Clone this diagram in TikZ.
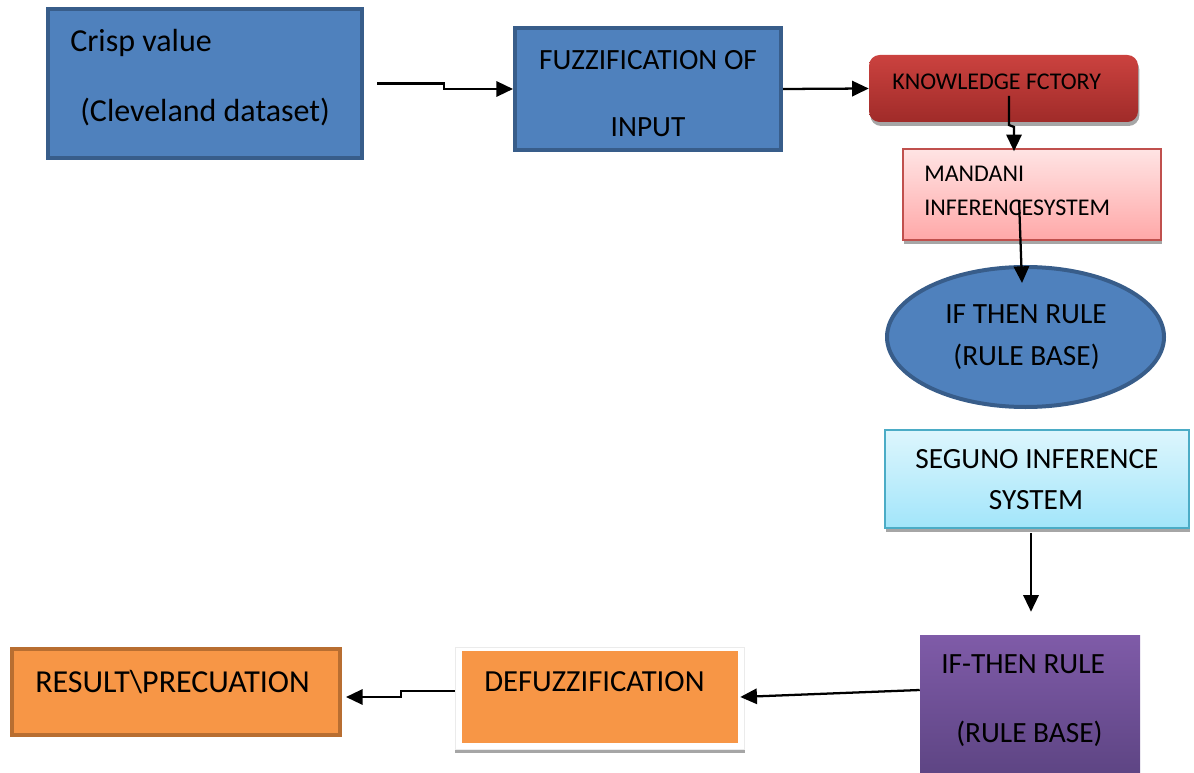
\documentclass[tikz,border=0pt]{standalone}
\usepackage{fontspec}
\setmainfont{Carlito}
\usetikzlibrary{arrows.meta,shapes.geometric,calc,shadows}
\definecolor{blueF}{HTML}{4F81BD}
\definecolor{blueD}{HTML}{385D8A}
\definecolor{redT}{HTML}{CB423F}
\definecolor{redB}{HTML}{A02B29}
\definecolor{pinkT}{HTML}{FFE4E4}
\definecolor{pinkB}{HTML}{FFA8A8}
\definecolor{pinkD}{HTML}{C0504D}
\definecolor{cyanT}{HTML}{DDF6FD}
\definecolor{cyanB}{HTML}{A2E5FA}
\definecolor{cyanD}{HTML}{4BACC6}
\definecolor{purT}{HTML}{7F5BA8}
\definecolor{purB}{HTML}{5E4584}
\definecolor{orF}{HTML}{F79646}
\definecolor{orD}{HTML}{B86E31}
\definecolor{shd}{HTML}{A6A6A6}
\begin{document}
\begin{tikzpicture}[x=0.75pt,y=-0.75pt,
  bluebox/.style={draw=blueD, line width=3pt, fill=blueF, inner sep=0pt},
  arr/.style={-{Triangle[length=12.5pt,width=11.5pt]}, line width=1.7pt},
  shad/.style={drop shadow={shadow xshift=1pt, shadow yshift=-3pt, fill=shd, opacity=1}},
  tl/.style={font=\fontsize{24}{28}\selectfont, inner sep=0pt},
  tm/.style={font=\fontsize{22}{26}\selectfont, inner sep=0pt},
  ts/.style={font=\fontsize{18}{22}\selectfont, inner sep=0pt}]
\useasboundingbox (0,0) rectangle (1194,773);

% boxes
\node[bluebox, minimum width=235.5pt, minimum height=111.75pt] (crisp) at (205,83.5) {};
\node[bluebox, minimum width=199.5pt, minimum height=91.5pt] (fuzz) at (648,89) {};
\node[shad, rounded corners=8pt, top color=redT, bottom color=redB, inner sep=0pt,
      minimum width=201.75pt, minimum height=50.25pt] (know) at (1003.5,88.5) {};
\node[shad, draw=pinkD, line width=1.2pt, top color=pinkT, bottom color=pinkB, inner sep=0pt,
      minimum width=193.5pt, minimum height=68.25pt] (mandani) at (1032,194.5) {};
\node[ellipse, draw=blueD, line width=3pt, fill=blueF, inner sep=0pt,
      minimum width=207.75pt, minimum height=105pt] (rule1) at (1025.5,337) {};
\node[shad, draw=cyanD, line width=1.2pt, top color=cyanT, bottom color=cyanB, inner sep=0pt,
      minimum width=228pt, minimum height=73.5pt] (seguno) at (1037,479) {};
\node[top color=purT, bottom color=purB, inner sep=0pt,
      minimum width=165pt, minimum height=103.5pt] (purple) at (1030,704) {};
\fill[shd] (455,747) rectangle (745,753);
\draw[white!92!black, line width=0.6pt, fill=white] (455,647) rectangle (744,749);
\node[fill=orF, inner sep=0pt, minimum width=207pt, minimum height=69pt] (defuzz) at (600,697) {};
\node[draw=orD, line width=3pt, fill=orF, inner sep=0pt,
      minimum width=246pt, minimum height=64.5pt] (result) at (176,692) {};

% texts
\node[tl, anchor=base west] (t1a) at (70,52) {Crisp value};
\node[tl, anchor=base west] (t1b) at (80,122) {(Cleveland dataset)};
\node[tm, anchor=base] (t2a) at (648,70) {FUZZIFICATION OF};
\node[tm, anchor=base] (t2b) at (648,137) {INPUT};
\node[ts, anchor=base west] (t3) at (892,90) {KNOWLEDGE FCTORY};
\node[ts, anchor=base west] (t4a) at (924,182) {MANDANI};
\node[ts, anchor=base west] (t4b) at (924,216) {INFERENCESYSTEM};
\node[tm, anchor=base] (t5a) at (1026,323) {IF THEN RULE};
\node[tm, anchor=base] (t5b) at (1026.5,365) {(RULE BASE)};
\node[tm, anchor=base] (t6a) at (1037,468) {SEGUNO INFERENCE};
\node[tm, anchor=base] (t6b) at (1036,509) {SYSTEM};
\node[tm, anchor=base west] (t7a) at (941,673) {IF-THEN RULE};
\node[tm, anchor=base west] (t7b) at (956,742) {(RULE BASE)};
\node[tl, anchor=base west, font=\fontsize{23}{27}\selectfont] (t8) at (484,691) {DEFUZZIFICATION};
\node[tl, anchor=base west] (t9) at (35,692) {RESULT\textbackslash PRECUATION};

% connectors
\draw[arr] ($(crisp.east)+(13,0)$) -- ++(67,0) |- (fuzz.west);
\draw[arr] (fuzz.east) -- (know.west);
\draw[arr] ($(know.center)+(5.5,7.5)$) -- ++(0,29) -- ++(5,2) -- ($(mandani.north)+(-18,3)$);
\draw[arr] ($(mandani.center)+(-13,5.5)$) -- ($(rule1.north)+(-3.5,18)$);
\draw[arr] ($(seguno.south)+(-6,4)$) -- ($(purple.north)+(1,-23)$);
\draw[arr] ($(purple.west)+(0,-14)$) -- ($(defuzz.east)+(2,0)$);
\draw[arr] ($(defuzz.west)+(-7,-6)$) -- ++(-54,0) |- ($(result.east)+(4,5)$);
\end{tikzpicture}
\end{document}
